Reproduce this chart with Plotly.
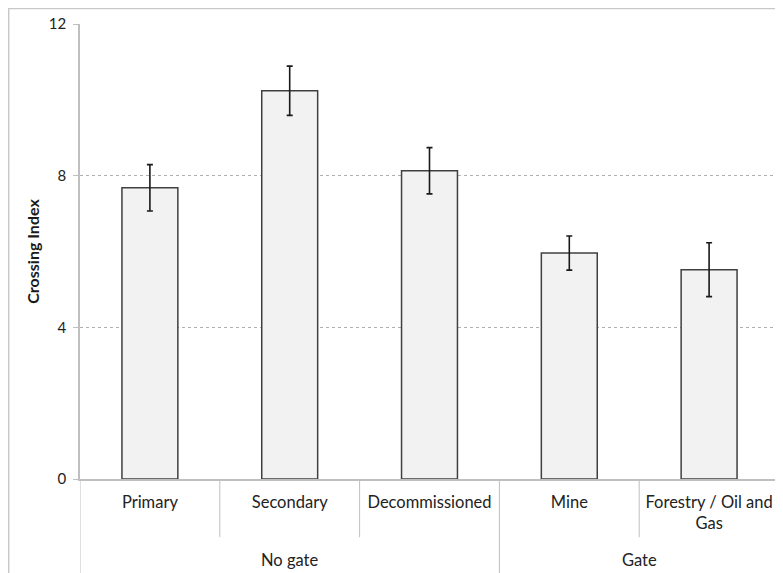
import plotly.graph_objects as go

categories = ["Primary", "Secondary", "Decommissioned", "Mine", "Forestry / Oil and<br>Gas"]
groups = ["No gate", "No gate", "No gate", "Gate", "Gate"]
values = [7.68, 10.24, 8.13, 5.96, 5.52]
errors = [0.61, 0.65, 0.61, 0.45, 0.71]
y_ticks = [0, 4, 8, 12]

FONT = "Lato, 'Open Sans', sans-serif"
LINE = "#bfbfbf"
TXT = "#222222"

fig = go.Figure()
fig.add_trace(go.Bar(
    x=categories, y=values,
    width=0.4,
    marker=dict(color="#f2f2f2", line=dict(color="#404040", width=1.5)),
    error_y=dict(type="data", array=errors, color="#1a1a1a", thickness=1.6, width=3),
))

shapes = []
# inner separators between categories
for i in range(1, len(categories)):
    if groups[i] == groups[i - 1]:
        shapes.append(dict(type="line", xref="x", yref="paper", x0=i - 0.5, x1=i - 0.5,
                           y0=0, y1=-0.128, line=dict(color=LINE, width=1)))
# group boundaries (long)
bounds = [-0.5] + [i - 0.5 for i in range(1, len(categories)) if groups[i] != groups[i - 1]] + [len(categories) - 0.5]
for b in bounds:
    shapes.append(dict(type="line", xref="x", yref="paper", x0=b, x1=b,
                       y0=0, y1=-0.25, line=dict(color=LINE, width=1)))
# outer frame
shapes.append(dict(type="rect", xref="paper", yref="paper", x0=-0.102, x1=1.05, y0=-0.3, y1=1.034,
                   line=dict(color="#c8c8c8", width=1.5), fillcolor="rgba(0,0,0,0)", layer="below"))

annotations = []
seen = []
for g in groups:
    if g not in seen:
        seen.append(g)
for g in seen:
    idx = [i for i, gg in enumerate(groups) if gg == g]
    annotations.append(dict(x=sum(idx) / len(idx), xref="x", y=-0.178, yref="paper", yanchor="middle",
                            text=g, showarrow=False, font=dict(size=16.5, color=TXT, family=FONT)))

fig.update_layout(
    width=775, height=565,
    margin=dict(l=72, r=4, t=16, b=94, autoexpand=False),
    paper_bgcolor="white", plot_bgcolor="white",
    showlegend=False,
    font=dict(family=FONT, size=14, color=TXT),
    shapes=shapes,
    annotations=annotations,
    xaxis=dict(
        type="category", range=[-0.5, len(categories) - 0.5], automargin=False,
        showgrid=False, showline=True, linecolor=LINE, linewidth=1.5,
        ticks="", tickfont=dict(size=16.5, color=TXT), ticklabelstandoff=7,
        zeroline=False,
    ),
    yaxis=dict(
        range=[0, 12], tickvals=y_ticks, ticktext=[str(t) for t in y_ticks], automargin=False,
        showgrid=True, gridcolor="#b0b0b0", griddash="dot", gridwidth=1,
        showline=True, linecolor=LINE, linewidth=1.5,
        ticks="outside", ticklen=5, tickcolor=LINE, ticklabelstandoff=4,
        zeroline=False,
        tickfont=dict(size=15, color=TXT),
        title=dict(text="<b>Crossing Index</b>", font=dict(size=16, color="#1a1a1a"), standoff=5),
    ),
)

fig.write_html("out.html")
